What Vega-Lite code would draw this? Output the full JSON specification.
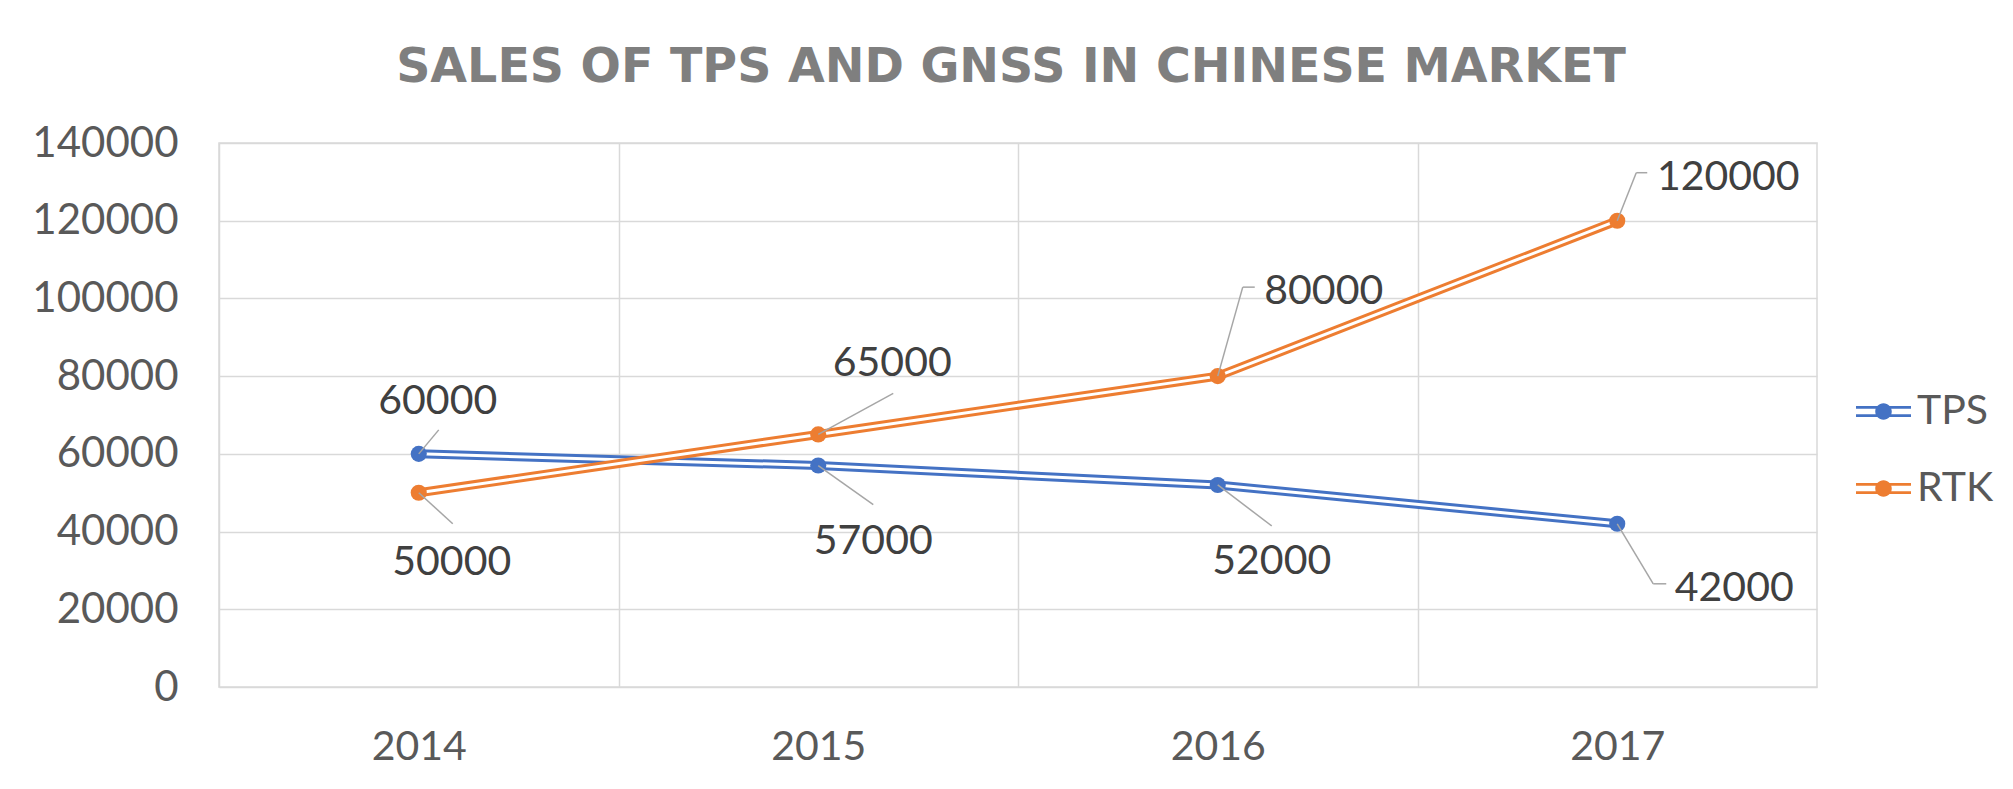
{
  "$schema": "https://vega.github.io/schema/vega-lite/v6.json",
  "width": 1598,
  "height": 544,
  "autosize": {"type": "none"},
  "padding": {"left": 219, "top": 143, "right": 196, "bottom": 102},
  "background": "#ffffff",
  "title": {
    "text": "SALES OF TPS AND GNSS IN CHINESE MARKET",
    "font": "DejaVu Sans",
    "fontSize": 47.5,
    "fontWeight": "bold",
    "color": "#7f7f7f",
    "anchor": "middle",
    "baseline": "alphabetic",
    "offset": -7,
    "dx": -7
  },
  "config": {
    "view": {"stroke": "#d9d9d9", "strokeWidth": 1.5},
    "font": "Lato",
    "axis": {"labelFont": "Lato", "labelFontSize": 41, "labelColor": "#595959", "gridColor": "#d9d9d9", "gridWidth": 1.5}
  },
  "data": {
    "values": [
      {"year": 2014, "series": "TPS", "value": 60000},
      {"year": 2015, "series": "TPS", "value": 57000},
      {"year": 2016, "series": "TPS", "value": 52000},
      {"year": 2017, "series": "TPS", "value": 42000},
      {"year": 2014, "series": "RTK", "value": 50000},
      {"year": 2015, "series": "RTK", "value": 65000},
      {"year": 2016, "series": "RTK", "value": 80000},
      {"year": 2017, "series": "RTK", "value": 120000}
    ]
  },
  "encoding": {
    "x": {
      "field": "year", "type": "quantitative",
      "scale": {"domain": [2013.5, 2017.5], "nice": false, "zero": false},
      "axis": {
        "title": null, "values": [2013.5, 2014.5, 2015.5, 2016.5],
        "labelExpr": "datum.value < 2017 ? toString(datum.value + 0.5) : ''",
        "labelOffset": 199.75, "labelPadding": 40, "ticks": false, "tickSize": 0,
        "domain": false, "grid": true, "labelBound": false, "labelOverlap": false, "labelFlush": false
      }
    },
    "y": {
      "field": "value", "type": "quantitative",
      "scale": {"domain": [0, 140000], "nice": false},
      "axis": {
        "title": null, "values": [0, 20000, 40000, 60000, 80000, 100000, 120000, 140000],
        "format": "d", "ticks": false, "tickSize": 0, "labelPadding": 41, "labelFontSize": 42, "domain": false, "grid": true
      }
    }
  },
  "layer": [
    {
      "transform": [{"filter": "datum.series == 'TPS'"}],
      "layer": [
        {"mark": {"type": "line", "strokeWidth": 9, "color": "#4472C4"}},
        {"mark": {"type": "line", "strokeWidth": 3, "color": "#ffffff"}}
      ]
    },
    {
      "transform": [{"filter": "datum.series == 'RTK'"}],
      "layer": [
        {"mark": {"type": "line", "strokeWidth": 9, "color": "#ED7D31"}},
        {"mark": {"type": "line", "strokeWidth": 3, "color": "#ffffff"}}
      ]
    },
    {
      "mark": {"type": "point", "filled": true, "size": 260, "opacity": 1},
      "encoding": {
        "color": {
          "field": "series", "type": "nominal",
          "scale": {"domain": ["TPS", "RTK"], "range": ["#4472C4", "#ED7D31"]},
          "legend": {
            "title": null, "orient": "none", "legendX": 1637, "legendY": 241,
            "symbolType": "M-1,-0.2H1V-0.1H-1Z M-1,0.1H1V0.2H-1Z M-0.3,0A0.3,0.3,0,1,1,0.3,0A0.3,0.3,0,1,1,-0.3,0Z",
            "symbolSize": 3025, "symbolStrokeWidth": 0, "symbolOpacity": 1,
            "labelFont": "Lato", "labelFontSize": 41, "labelColor": "#595959",
            "labelOffset": 6, "rowPadding": 29, "padding": 0
          }
        }
      }
    },
    {
      "transform": [{"filter": "datum.series == 'TPS' && datum.year == 2014"}],
      "layer": [
        {"mark": {"type": "rule", "color": "#a6a6a6", "strokeWidth": 1.5, "x2Offset": 20, "y2Offset": -24}, "encoding": {"x2": {"field": "year"}, "y2": {"field": "value"}}},
        {"mark": {"type": "text", "fontSize": 41, "color": "#404040", "align": "center", "baseline": "alphabetic", "dx": 19, "dy": -40}, "encoding": {"text": {"field": "value", "type": "quantitative", "format": "d"}}}
      ]
    },
    {
      "transform": [{"filter": "datum.series == 'RTK' && datum.year == 2014"}],
      "layer": [
        {"mark": {"type": "rule", "color": "#a6a6a6", "strokeWidth": 1.5, "x2Offset": 34, "y2Offset": 31}, "encoding": {"x2": {"field": "year"}, "y2": {"field": "value"}}},
        {"mark": {"type": "text", "fontSize": 41, "color": "#404040", "align": "center", "baseline": "alphabetic", "dx": 33, "dy": 82}, "encoding": {"text": {"field": "value", "type": "quantitative", "format": "d"}}}
      ]
    },
    {
      "transform": [{"filter": "datum.series == 'TPS' && datum.year == 2015"}],
      "layer": [
        {"mark": {"type": "rule", "color": "#a6a6a6", "strokeWidth": 1.5, "x2Offset": 55, "y2Offset": 39}, "encoding": {"x2": {"field": "year"}, "y2": {"field": "value"}}},
        {"mark": {"type": "text", "fontSize": 41, "color": "#404040", "align": "center", "baseline": "alphabetic", "dx": 55, "dy": 88}, "encoding": {"text": {"field": "value", "type": "quantitative", "format": "d"}}}
      ]
    },
    {
      "transform": [{"filter": "datum.series == 'RTK' && datum.year == 2015"}],
      "layer": [
        {"mark": {"type": "rule", "color": "#a6a6a6", "strokeWidth": 1.5, "x2Offset": 75, "y2Offset": -41}, "encoding": {"x2": {"field": "year"}, "y2": {"field": "value"}}},
        {"mark": {"type": "text", "fontSize": 41, "color": "#404040", "align": "center", "baseline": "alphabetic", "dx": 74, "dy": -58}, "encoding": {"text": {"field": "value", "type": "quantitative", "format": "d"}}}
      ]
    },
    {
      "transform": [{"filter": "datum.series == 'TPS' && datum.year == 2016"}],
      "layer": [
        {"mark": {"type": "rule", "color": "#a6a6a6", "strokeWidth": 1.5, "x2Offset": 54, "y2Offset": 41}, "encoding": {"x2": {"field": "year"}, "y2": {"field": "value"}}},
        {"mark": {"type": "text", "fontSize": 41, "color": "#404040", "align": "center", "baseline": "alphabetic", "dx": 54, "dy": 89}, "encoding": {"text": {"field": "value", "type": "quantitative", "format": "d"}}}
      ]
    },
    {
      "transform": [{"filter": "datum.series == 'RTK' && datum.year == 2016"}],
      "layer": [
        {"mark": {"type": "rule", "color": "#a6a6a6", "strokeWidth": 1.5, "x2Offset": 25, "y2Offset": -89}, "encoding": {"x2": {"field": "year"}, "y2": {"field": "value"}}},
        {"mark": {"type": "rule", "color": "#a6a6a6", "strokeWidth": 1.5, "xOffset": 25, "yOffset": -89, "x2Offset": 37, "y2Offset": -89}, "encoding": {"x2": {"field": "year"}, "y2": {"field": "value"}}},
        {"mark": {"type": "text", "fontSize": 41, "color": "#404040", "align": "center", "baseline": "alphabetic", "dx": 106, "dy": -72}, "encoding": {"text": {"field": "value", "type": "quantitative", "format": "d"}}}
      ]
    },
    {
      "transform": [{"filter": "datum.series == 'TPS' && datum.year == 2017"}],
      "layer": [
        {"mark": {"type": "rule", "color": "#a6a6a6", "strokeWidth": 1.5, "x2Offset": 36, "y2Offset": 60}, "encoding": {"x2": {"field": "year"}, "y2": {"field": "value"}}},
        {"mark": {"type": "rule", "color": "#a6a6a6", "strokeWidth": 1.5, "xOffset": 36, "yOffset": 60, "x2Offset": 49, "y2Offset": 60}, "encoding": {"x2": {"field": "year"}, "y2": {"field": "value"}}},
        {"mark": {"type": "text", "fontSize": 41, "color": "#404040", "align": "center", "baseline": "alphabetic", "dx": 117, "dy": 77}, "encoding": {"text": {"field": "value", "type": "quantitative", "format": "d"}}}
      ]
    },
    {
      "transform": [{"filter": "datum.series == 'RTK' && datum.year == 2017"}],
      "layer": [
        {"mark": {"type": "rule", "color": "#a6a6a6", "strokeWidth": 1.5, "x2Offset": 19, "y2Offset": -48}, "encoding": {"x2": {"field": "year"}, "y2": {"field": "value"}}},
        {"mark": {"type": "rule", "color": "#a6a6a6", "strokeWidth": 1.5, "xOffset": 19, "yOffset": -48, "x2Offset": 30, "y2Offset": -48}, "encoding": {"x2": {"field": "year"}, "y2": {"field": "value"}}},
        {"mark": {"type": "text", "fontSize": 41, "color": "#404040", "align": "center", "baseline": "alphabetic", "dx": 111, "dy": -31}, "encoding": {"text": {"field": "value", "type": "quantitative", "format": "d"}}}
      ]
    }
  ]
}
